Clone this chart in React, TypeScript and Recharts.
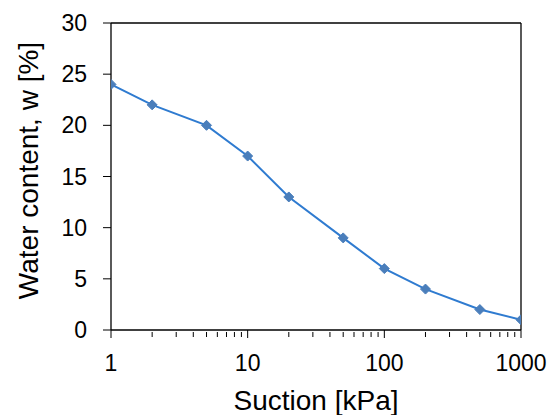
import { LineChart, Line, XAxis, YAxis, ReferenceLine } from "recharts";

const suction = [1, 2, 5, 10, 20, 50, 100, 200, 500, 1000];
const waterContent = [24, 22, 20, 17, 13, 9, 6, 4, 2, 1];
const xTicks = [1, 2, 3, 4, 5, 6, 7, 8, 9, 10, 20, 30, 40, 50, 60, 70, 80, 90, 100, 200, 300, 400, 500, 600, 700, 800, 900, 1000];
const majorX = [1, 10, 100, 1000];
const yTicks = [0, 5, 10, 15, 20, 25, 30];

const data = suction.map((s, i) => ({ suction: s, w: waterContent[i] }));

const FONT = "'Liberation Sans', Arial, sans-serif";
const LINE = "#2f7bd0";
const MARKER = "#4a7ebb";

function XTick(props: any) {
  const { x, y, payload } = props;
  const major = majorX.includes(payload.value);
  return (
    <g>
      <line x1={x} x2={x} y1={major ? y : y + 2} y2={y + (major ? 8 : 7)} stroke="#000" strokeWidth={1} />
      {major && (
        <text x={x} y={y + 41} textAnchor="middle" fontSize={23} fontFamily={FONT} fill="#000">
          {payload.value}
        </text>
      )}
    </g>
  );
}

function Diamond(props: any) {
  const { cx, cy } = props;
  if (cx == null || cy == null) return null;
  const r = 5;
  return (
    <polygon
      points={`${cx},${cy - r} ${cx + r},${cy} ${cx},${cy + r} ${cx - r},${cy}`}
      fill={MARKER}
      stroke={MARKER}
      strokeWidth={1}
    />
  );
}

export default function App() {
  return (
    <div style={{ position: "absolute", left: 0, top: 0, background: "#fff" }}>
      <LineChart width={554} height={415} data={data} margin={{ top: 23, right: 33, bottom: 0, left: 0 }}>
        <XAxis
          dataKey="suction"
          type="number"
          scale="log"
          domain={[1, 1000]}
          ticks={xTicks}
          interval={0}
          allowDataOverflow
          height={85}
          axisLine={{ stroke: "#000", strokeWidth: 1.3 }}
          tickLine={false}
          tickSize={0}
          tickMargin={0}
          tick={<XTick />}
          label={{
            content: (p: any) => {
              const vb = p.viewBox;
              return (
                <text x={vb.x + vb.width / 2} y={vb.y + 80} textAnchor="middle" fontSize={28} fontFamily={FONT} fill="#000">
                  Suction [kPa]
                </text>
              );
            },
          }}
        />
        <YAxis
          type="number"
          domain={[0, 30]}
          ticks={yTicks}
          interval={0}
          width={111}
          axisLine={{ stroke: "#000", strokeWidth: 1.3 }}
          tickLine={{ stroke: "#000", strokeWidth: 1 }}
          tickSize={8}
          tickMargin={16}
          tick={{ fontSize: 23, fontFamily: FONT, fill: "#000" }}
          label={{
            content: (p: any) => {
              const vb = p.viewBox;
              const cx = 28;
              const cy = vb.y + vb.height / 2 - 6;
              return (
                <text
                  x={cx}
                  y={cy}
                  transform={`rotate(-90 ${cx} ${cy})`}
                  textAnchor="middle"
                  dominantBaseline="central"
                  fontSize={28}
                  fontFamily={FONT}
                  fill="#000"
                >
                  Water content, w [%]
                </text>
              );
            },
          }}
        />
        <ReferenceLine y={30} stroke="#000" strokeWidth={1.3} />
        <ReferenceLine x={1000} stroke="#000" strokeWidth={1.3} />
        <Line
          type="linear"
          dataKey="w"
          stroke={LINE}
          strokeWidth={2}
          dot={<Diamond />}
          activeDot={false}
          isAnimationActive={false}
        />
      </LineChart>
    </div>
  );
}
